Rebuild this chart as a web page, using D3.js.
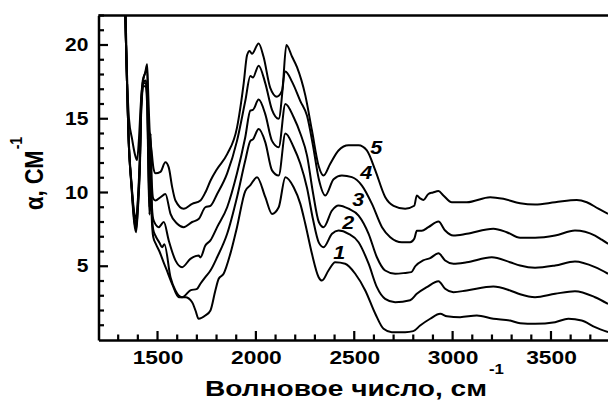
<!DOCTYPE html>
<html>
<head>
<meta charset="utf-8">
<script src="https://cdn.jsdelivr.net/npm/d3@7"></script>
<style>
  body { margin: 0; background: #fff; }
  svg text { font-family: "Liberation Sans", Arial, sans-serif; font-weight: bold; fill: #000; }
</style>
</head>
<body>
<div id="chart"></div>
<script>
// [wavenumber, alpha] pairs, curve 1 is the lowest
const curve1 = [[1330,26],[1338,21],[1345,17.4],[1352,14],[1368,10.3],[1382,7.9],[1391,7.3],[1400,8.8],[1410,11.5],[1418,15.8],[1430,17.2],[1440,17.2],[1447,16],[1453,12],[1459,8.5],[1465,11],[1470,8.5],[1478,7.0],[1492,6.5],[1510,6.0],[1530,5.3],[1545,4.8],[1574,3.81],[1608,2.9],[1642,2.9],[1676,2.56],[1693,2.0],[1709,1.44],[1743,1.66],[1769,2.0],[1794,3.36],[1811,4.15],[1836,4.49],[1870,5.84],[1904,7.65],[1946,10.1],[1972,10.5],[2006,11.04],[2048,9.68],[2082,8.55],[2116,9.0],[2150,11.04],[2192,10.36],[2226,9.23],[2251,7.88],[2285,5.84],[2319,4.26],[2336,4.03],[2369,4.71],[2403,5.27],[2454,5.17],[2505,4.49],[2556,3.36],[2607,1.78],[2649,0.76],[2691,0.53],[2759,0.53],[2800,0.6],[2835,0.98],[2886,1.44],[2937,1.78],[2971,1.61],[3038,1.55],[3123,1.66],[3207,1.44],[3292,1.32],[3343,1.14],[3419,1.1],[3521,1.21],[3588,1.44],[3656,1.32],[3724,0.87],[3790,0.53]];
const curve2 = [[1330,26],[1338,21],[1345,17.4],[1352,14],[1368,10.4],[1382,8.1],[1391,7.5],[1400,9],[1410,11.8],[1418,16],[1430,17.4],[1440,17.4],[1447,16.6],[1453,12.5],[1459,9],[1465,12],[1470,9],[1478,7.5],[1492,7.0],[1510,6.6],[1523,6.29],[1535,6.5],[1566,4.26],[1591,3.36],[1625,2.9],[1667,3.36],[1701,3.47],[1718,3.81],[1743,4.26],[1769,4.71],[1803,5.61],[1854,7.2],[1904,9.68],[1946,12.17],[1972,13.5],[1985,13.6],[2014,14.3],[2048,13.4],[2082,11.5],[2116,11.15],[2150,14.0],[2192,13.07],[2226,11.95],[2260,10.3],[2290,8.2],[2320,6.6],[2344,6.29],[2387,7.2],[2420,7.42],[2471,7.2],[2522,6.63],[2573,5.17],[2615,3.58],[2657,2.79],[2708,2.56],[2784,2.7],[2818,3.13],[2869,3.58],[2928,3.99],[2962,3.47],[3004,3.24],[3072,3.36],[3207,3.63],[3292,3.36],[3343,3.1],[3419,2.9],[3521,3.13],[3622,3.31],[3724,2.9],[3790,2.45]];
const curve3 = [[1330,26],[1338,21],[1345,17.4],[1352,14],[1368,10.5],[1382,8.3],[1391,7.8],[1400,9.3],[1410,12],[1418,16.2],[1430,17.5],[1440,17.6],[1447,17.0],[1453,13],[1459,9.5],[1465,13],[1470,9.5],[1478,8.2],[1492,7.8],[1506,7.65],[1532,8.0],[1557,6.75],[1591,5.4],[1625,4.94],[1667,5.5],[1709,5.73],[1718,5.6],[1743,6.4],[1769,6.75],[1803,7.65],[1854,9.0],[1904,11.3],[1946,13.75],[1972,15.56],[1985,15.6],[2014,16.3],[2048,15.3],[2082,13.5],[2116,13.07],[2150,16.0],[2192,15.1],[2226,14.0],[2260,12.5],[2290,10.0],[2320,8.0],[2344,7.65],[2387,8.78],[2420,9.12],[2471,8.9],[2522,8.44],[2573,7.2],[2615,5.61],[2657,4.71],[2708,4.49],[2760,4.55],[2790,4.6],[2810,5.0],[2850,5.4],[2886,5.55],[2928,5.88],[2962,5.39],[3004,5.17],[3072,5.27],[3199,5.61],[3292,5.27],[3343,5.05],[3419,4.9],[3521,5.05],[3622,5.32],[3724,4.94],[3790,4.49]];
const curve4 = [[1330,26],[1338,21],[1345,17.4],[1352,14.2],[1368,10.6],[1382,8.6],[1391,8.2],[1400,9.5],[1410,12.5],[1418,16.5],[1430,17.8],[1440,18.2],[1447,18.5],[1453,15],[1459,11],[1465,14],[1470,11],[1478,9.6],[1489,9.46],[1515,9.68],[1540,9.9],[1566,8.55],[1600,7.88],[1633,7.65],[1676,8.0],[1709,8.2],[1743,9.0],[1769,9.1],[1803,9.9],[1854,11.3],[1904,13.5],[1946,16.2],[1972,17.9],[1985,17.8],[2014,18.6],[2048,17.4],[2082,15.6],[2116,15.0],[2150,18.2],[2184,17.5],[2226,16.2],[2260,15.2],[2290,13.2],[2320,10.9],[2353,9.8],[2395,10.9],[2437,11.15],[2488,11.04],[2539,10.47],[2590,9.23],[2641,7.65],[2683,6.97],[2742,6.63],[2784,6.63],[2805,6.86],[2818,7.4],[2843,7.4],[2877,7.65],[2928,8.03],[2962,7.42],[3004,7.08],[3072,7.2],[3207,7.54],[3275,7.31],[3343,6.93],[3419,6.93],[3521,7.08],[3622,7.42],[3724,7.08],[3758,6.8],[3790,6.52]];
const curve5 = [[1330,26],[1338,22],[1345,18],[1355,15],[1371,13.6],[1385,12.6],[1396,12.2],[1405,13.5],[1415,16],[1425,17.6],[1437,18.1],[1447,18.7],[1452,17],[1460,14.2],[1470,12.8],[1480,11.6],[1490,11.3],[1515,11.4],[1540,12.05],[1557,11.7],[1574,10.4],[1591,9.46],[1633,8.9],[1676,9.23],[1718,9.46],[1743,10.0],[1769,10.8],[1803,11.6],[1854,12.6],[1904,14.4],[1938,17.4],[1955,19.3],[1968,19.6],[1980,19.4],[2014,20.1],[2039,19.2],[2073,17.1],[2107,16.5],[2133,16.9],[2155,20.0],[2184,19.2],[2209,18.5],[2251,16.6],[2285,14.2],[2319,11.8],[2344,11.15],[2378,11.95],[2420,12.85],[2471,13.2],[2522,13.2],[2564,12.85],[2607,11.5],[2657,9.7],[2700,9.1],[2759,8.9],[2805,9.1],[2818,9.8],[2835,9.6],[2852,9.5],[2877,9.9],[2900,10.0],[2928,10.1],[2953,9.8],[2996,9.34],[3072,9.34],[3191,9.68],[3258,9.57],[3343,9.27],[3419,9.19],[3521,9.34],[3631,9.5],[3682,9.34],[3741,8.9],[3790,8.55]];

const curveNames = ['1', '2', '3', '4', '5'];
// where each number label sits, in data units
const labelWave = [2393, 2439, 2490, 2530, 2581];
const labelAlpha = [5.5, 7.5, 9.1, 10.9, 12.6];

const xTicks = [1500, 2000, 2500, 3000, 3500];
const yTicks = [5, 10, 15, 20];

class SpectraChart {

  constructor(_config, _series) {
    this.config = {
      parentElement: _config.parentElement,
      containerWidth: _config.containerWidth || 608,
      containerHeight: _config.containerHeight || 400,
      margin: { top: 15.5, bottom: 60, right: -2, left: 98.5 }
    }
    this.series = _series;
    this.initVis();
  }

  initVis() {
    const vis = this;
    const m = vis.config.margin;
    const stretch = 'scale(1.2,1)'; // the source lettering is a bit wide

    vis.width = vis.config.containerWidth - m.left - m.right;
    vis.height = vis.config.containerHeight - m.top - m.bottom;

    const svg = d3.select(vis.config.parentElement)
        .append('svg')
        .attr('width', vis.config.containerWidth)
        .attr('height', vis.config.containerHeight);

    vis.svg = svg.append('g')
        .attr('transform', `translate(${m.left}, ${m.top})`);

    vis.xScale = d3.scaleLinear().domain([1200, 3800]).range([0, vis.width]);
    vis.yScale = d3.scaleLinear().domain([0, 22]).range([vis.height, 0]);

    vis.svg.append('clipPath').attr('id', 'plot-clip')
      .append('rect').attr('width', vis.width).attr('height', vis.height);

    // curves
    vis.line = d3.line()
        .x(d => vis.xScale(d[0]))
        .y(d => vis.yScale(d[1]))
        .curve(d3.curveMonotoneX);

    vis.svg.append('g')
        .attr('clip-path', 'url(#plot-clip)')
      .selectAll('path')
      .data(vis.series)
      .join('path')
        .attr('d', vis.line)
        .attr('fill', 'none')
        .attr('stroke', '#000')
        .attr('stroke-width', 2)
        .attr('stroke-linejoin', 'round');

    // curve numbers
    vis.svg.selectAll('.curve-label')
      .data(curveNames)
      .join('text')
        .attr('class', 'curve-label')
        .attr('transform', (d, i) => `translate(${vis.xScale(labelWave[i])},${vis.yScale(labelAlpha[i])}) ${stretch}`)
        .style('font-style', 'italic')
        .style('font-size', '18px')
        .text(d => d);

    // tick marks point inwards, long at the labelled values
    const xMinor = d3.range(1300, 3801, 100);
    const yMinor = d3.range(1, 23, 1);

    vis.svg.append('g').selectAll('rect')
      .data(xMinor)
      .join('rect')
        .attr('x', d => vis.xScale(d) - 1.1)
        .attr('width', 2.2)
        .attr('y', d => vis.height - (d % 500 === 0 ? 9 : 5.5))
        .attr('height', d => (d % 500 === 0 ? 9 : 5.5))
        .attr('fill', '#000');

    vis.svg.append('g').selectAll('rect')
      .data(yMinor)
      .join('rect')
        .attr('y', d => vis.yScale(d) - 1.1)
        .attr('height', 2.2)
        .attr('x', 0)
        .attr('width', d => (d % 5 === 0 ? 9.5 : 5.5))
        .attr('fill', '#000');

    // axis lines and labels
    vis.xAxisGroup = vis.svg.append('g')
        .attr('transform', `translate(0, ${vis.height})`)
        .call(d3.axisBottom(vis.xScale).tickValues(xTicks).tickFormat(d3.format('d'))
          .tickSize(0).tickPadding(10.5));
    vis.yAxisGroup = vis.svg.append('g')
        .call(d3.axisLeft(vis.yScale).tickValues(yTicks).tickFormat(d3.format('d'))
          .tickSize(0).tickPadding(8.5));

    vis.svg.selectAll('.domain').attr('stroke', '#000').attr('stroke-width', 2.5);
    vis.xAxisGroup.selectAll('text').attr('dy', '0.71em').style('font-size', '19px').attr('transform', stretch);
    vis.yAxisGroup.selectAll('text').style('font-size', '17.5px').attr('transform', stretch);

    // top frame line
    vis.svg.append('line')
        .attr('x1', 0).attr('x2', vis.width)
        .attr('stroke', '#000').attr('stroke-width', 2.5);

    // axis titles
    svg.append('text')
        .attr('x', 205).attr('y', 396)
        .attr('textLength', 282)
        .attr('lengthAdjust', 'spacingAndGlyphs')
        .style('font-size', '22px')
        .text('Волновое число, см');
    svg.append('text')
        .attr('transform', `translate(489, 374) ${stretch}`)
        .style('font-size', '14px')
        .text('-1');

    const yt = svg.append('text')
        .attr('transform', `translate(43, 210) ${stretch} rotate(-90)`)
        .style('font-size', '22px')
        .text('α, СМ');
    yt.append('tspan').attr('dx', 1).attr('dy', -17.5).style('font-size', '14px').text('-1');
  }
}

const chart = new SpectraChart({ parentElement: '#chart' }, [curve1, curve2, curve3, curve4, curve5]);
</script>
</body>
</html>
